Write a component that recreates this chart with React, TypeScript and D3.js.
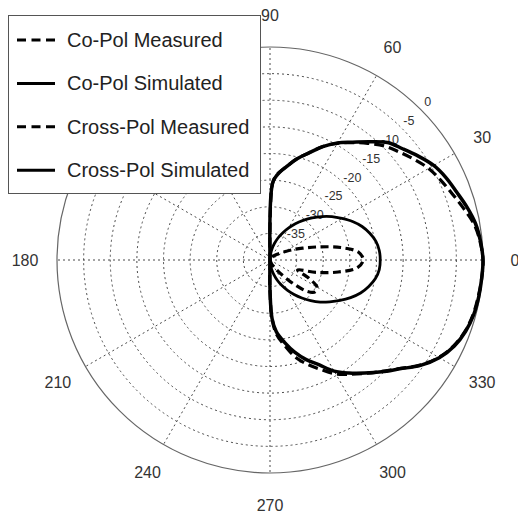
import React from "react";
import * as d3 from "d3";

// angles in degrees (0 = east, counter-clockwise), values in dB
const angleDeg = [
  -90.5, -90, -88, -85, -80, -75, -70, -65, -60, -55, -50, -45, -40, -35, -30, -25, -20, -15, -10, -5,
  0, 5, 10, 15, 20, 25, 30, 35, 40, 45, 50, 55, 60, 65, 70, 75, 80, 85, 88, 90,
];

const coPolMeasured = [
  -40, -34, -29, -26, -23.6, -21.0, -19.1, -17.3, -15.3, -13.8, -12.2, -10.4, -8.3, -5.6, -3.4, -1.9, -1.0, -0.5, -0.3, -0.1,
  0, -0.4, -1.1, -2.4, -3.6, -4.6, -5.6, -7.0, -8.4, -9.7, -11.4, -13.1, -14.7, -16.5, -18.6, -20.3, -22.2, -23.8, -25.5, -40,
];

const coPolSimulated = [
  -40, -34.4, -29, -26.5, -24.3, -22.1, -20.1, -18.3, -15.9, -14.1, -12.3, -10.3, -8.2, -5.5, -3.3, -1.8, -0.9, -0.4, -0.2, -0.1,
  0, -0.3, -0.8, -1.7, -2.7, -3.5, -4.5, -6.0, -7.5, -8.8, -11.0, -13.0, -14.6, -16.5, -18.6, -20.3, -22.2, -23.9, -25.5, -40,
];

const crossPolMeasured = [
  -40, -40, -40, -40, -40, -39.8, -39.5, -39, -38.5, -37.5, -36, -33.5, -30.8, -29.6, -29.8, -32, -34.5, -31, -27, -23.5,
  -22.5, -23.3, -26.5, -30.5, -33.5, -35.5, -37, -37.8, -38.4, -38.8, -39, -39.3, -39.5, -39.7, -39.8, -39.9, -40, -40, -40, -40,
];

const crossPolSimulated = [
  -40, -40, -39.7, -39.2, -38.2, -37.1, -35.9, -34.7, -33.4, -32.1, -30.7, -29.2, -27.7, -26.3, -24.8, -23.3, -21.9, -20.8, -19.9, -19.4,
  -19.3, -19.4, -19.8, -20.6, -21.6, -22.9, -24.4, -25.8, -27.3, -28.8, -30.3, -31.7, -33.1, -34.4, -35.6, -36.8, -37.9, -39, -39.6, -40,
];

const ringTicks = [-35, -30, -25, -20, -15, -10, -5];
const radialLabels = ["-35", "-30", "-25", "-20", "-15", "-10", "-5", "0"];
const spokeAngles = [0, 30, 60, 90, 120, 150, 180, 210, 240, 270, 300, 330];
// 120 and 150 sit under the legend box in the reference
const angleLabels = ["0", "30", "60", "90", "180", "210", "240", "270", "300", "330"];
const legendLabels = ["Co-Pol Measured", "Co-Pol Simulated", "Cross-Pol Measured", "Cross-Pol Simulated"];

const W = 518;
const H = 515;
const cx = 270;
const cy = 260;
const R = 213;
const font = "'Liberation Sans', Arial, sans-serif";

const toRad = (d: number) => (d * Math.PI) / 180;

export default function App() {
  const r = d3.scaleLinear().domain([-40, 0]).range([0, R]).clamp(true);

  const radial = d3
    .lineRadial<number>()
    .angle((_, i) => toRad(90 - angleDeg[i]))
    .radius((v) => r(v))
    .curve(d3.curveCatmullRom.alpha(0.5));

  const series = [
    { name: legendLabels[0], values: coPolMeasured, dash: "10,5", width: 3.2 },
    { name: legendLabels[1], values: coPolSimulated, dash: null, width: 3.5 },
    { name: legendLabels[2], values: crossPolMeasured, dash: "8,4.5", width: 3.2 },
    { name: legendLabels[3], values: crossPolSimulated, dash: null, width: 2.8 },
  ];

  const ticks = d3.range(-35, 5, 5);

  return (
    <svg
      width={W}
      height={H}
      style={{ position: "absolute", left: 0, top: 0, background: "#fff" }}
    >
      <g transform={`translate(${cx},${cy})`}>
        {/* dotted rings */}
        {ringTicks.map((t) => (
          <circle
            key={t}
            r={r(t)}
            fill="none"
            stroke="#4a4a4a"
            strokeWidth={1}
            strokeDasharray="2,3"
          />
        ))}
        {/* spokes */}
        {spokeAngles.map((a) => (
          <line
            key={a}
            x1={0}
            y1={0}
            x2={R * Math.cos(toRad(a))}
            y2={-R * Math.sin(toRad(a))}
            stroke="#4a4a4a"
            strokeWidth={1}
            strokeDasharray="2,3"
          />
        ))}
        <circle r={R} fill="none" stroke="#666" strokeWidth={1.2} />

        {/* radial tick labels */}
        {ticks.map((t, i) => (
          <text
            key={t}
            x={(r(t) + 10) * Math.cos(toRad(45))}
            y={-(r(t) + 10) * Math.sin(toRad(45))}
            fontFamily={font}
            fontSize={12.5}
            fill="#333"
            textAnchor="middle"
            dominantBaseline="central"
          >
            {radialLabels[i]}
          </text>
        ))}

        {/* pattern curves */}
        {series.map((s) => (
          <path
            key={s.name}
            d={radial(s.values) || ""}
            fill="none"
            stroke="#000"
            strokeWidth={s.width}
            strokeDasharray={s.dash || undefined}
            strokeLinejoin="round"
          />
        ))}

        {/* angle labels */}
        {angleLabels.map((lab) => {
          const a = +lab;
          return (
            <text
              key={lab}
              x={245 * Math.cos(toRad(a))}
              y={-245 * Math.sin(toRad(a))}
              fontFamily={font}
              fontSize={16}
              fill="#333"
              textAnchor="middle"
              dominantBaseline="central"
            >
              {lab}
            </text>
          );
        })}
      </g>

      {/* legend */}
      <g>
        <rect x={8.5} y={15.5} width={252} height={178} fill="#fff" stroke="#555" strokeWidth={1} />
        {series.map((s, i) => {
          const y = 40 + i * 43.4;
          return (
            <g key={s.name}>
              <line
                x1={17}
                x2={55}
                y1={y}
                y2={y}
                stroke="#000"
                strokeWidth={3}
                strokeDasharray={s.dash ? "9,5.5" : undefined}
              />
              <text
                x={67}
                y={y}
                fontFamily={font}
                fontSize={20}
                fill="#222"
                dominantBaseline="central"
              >
                {s.name}
              </text>
            </g>
          );
        })}
      </g>
    </svg>
  );
}
